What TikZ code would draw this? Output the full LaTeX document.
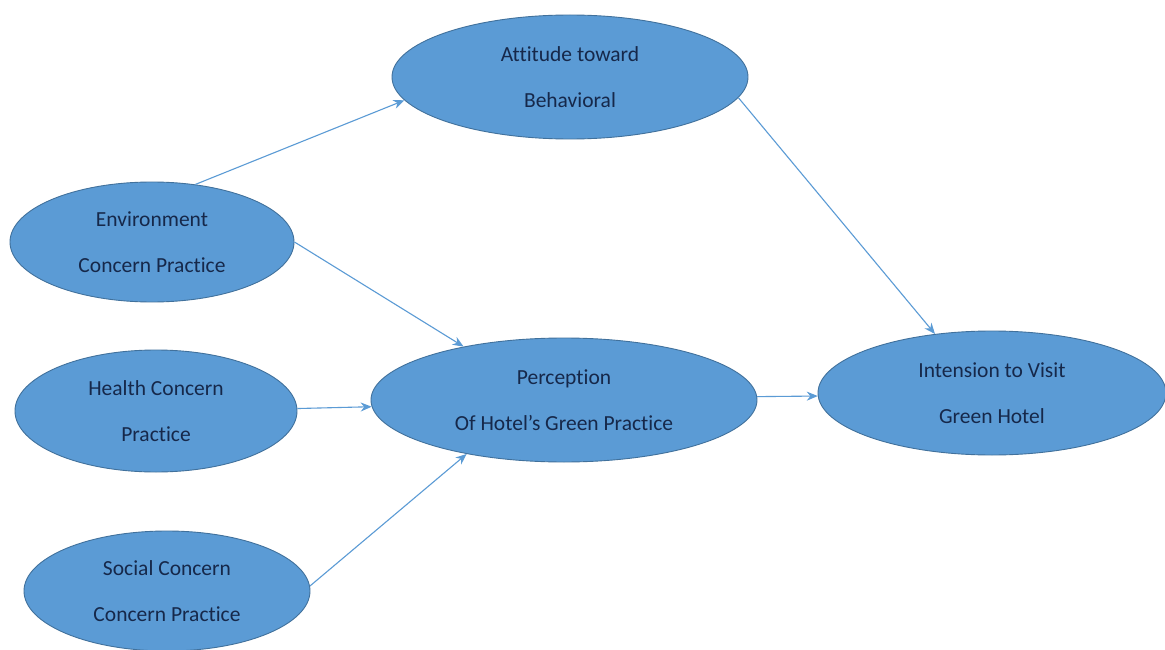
\documentclass[tikz,border=0pt]{standalone}
\usepackage{fontspec}
\setmainfont[Ligatures={NoCommon,NoRare}]{Carlito}
\usetikzlibrary{shapes.geometric,arrows.meta}
\definecolor{efill}{HTML}{5B9BD5}
\definecolor{edraw}{HTML}{41719C}
\definecolor{etext}{HTML}{16284A}
\definecolor{arr}{HTML}{5B9BD5}
\tikzset{
  oval/.style={ellipse, fill=efill, draw=edraw, line width=0.9pt, inner sep=0pt,
    text=etext, align=center, font=\fontsize{21.5}{46}\selectfont},
  link/.style={draw=arr, line width=1.1pt, -{Stealth[length=11pt,width=9pt]}}
}
\begin{document}
\begin{tikzpicture}[x=1pt,y=-1pt]
\useasboundingbox (0,0) rectangle (1165,650);
\clip (0,0) rectangle (1165,650);
\fill[white] (0,0) rectangle (1165,650);
\node[oval, minimum width=356pt, minimum height=124pt] (att) at (570,77) {Attitude toward\\Behavioral};
\node[oval, minimum width=284pt, minimum height=120pt] (env) at (152,242) {Environment\\Concern Practice};
\node[oval, minimum width=282pt, minimum height=122pt] (hea) at (156,411) {Health Concern\\Practice};
\node[oval, minimum width=286pt, minimum height=120pt] (soc) at (167,591) {Social Concern\\Concern Practice};
\node[oval, minimum width=386pt, minimum height=124pt] (per) at (564,400) {Perception\\Of Hotel’s Green Practice};
\node[oval, minimum width=348pt, minimum height=124pt] (int) at (992,393) {Intension to Visit\\Green Hotel};
\draw[link] (env.53) -- (att.188);
\draw[link] (env.0) -- (per.152);
\draw[link] (hea.1) -- (per.182);
\draw[link] (soc.2) -- (per.209);
\draw[link] (per.1) -- (int.181);
\draw[link] (att.-7) -- (int.134);
\end{tikzpicture}
\end{document}
